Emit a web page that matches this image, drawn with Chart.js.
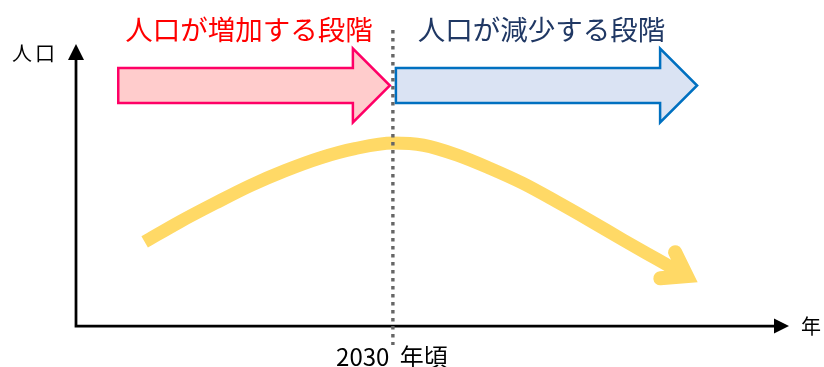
<!DOCTYPE html>
<html lang="ja">
<head>
<meta charset="utf-8">
<script src="https://cdn.jsdelivr.net/npm/chart.js@4.4.1/dist/chart.umd.min.js"></script>
<style>
  html, body { margin: 0; padding: 0; background: #fff; }
  #wrap { width: 824px; height: 367px; }
</style>
</head>
<body>
<div id="wrap"><canvas id="popChart" width="824" height="367"></canvas></div>
<script>
// 人口の推移（概念図）
const curveYears = [2006.5, 2009.8, 2013.2, 2016.5, 2019.8, 2023.1, 2026.4, 2030.0,
                    2032.9, 2036.1, 2039.2, 2042.3, 2045.5, 2048.7, 2051.8, 2055.0, 2057.5];
const curvePop   = [29.8, 36.9, 43.6, 49.8, 55.1, 59.6, 62.9, 64.9,
                    64.1, 60.6, 55.9, 50.6, 44.1, 37.3, 30.5, 23.7, 18.4];

const peakYear = 2030;
const peakLabel = '2030 年頃';
const phaseLabels = ['人口が増加する段階', '人口が減少する段階'];
const phaseFrom = [2004, 2030];
const phaseTo = [2030, 2058.8];
const yTitle = '人口';
const xTitle = '年';

const FONT = '"Noto Sans CJK JP", "Noto Sans", sans-serif';
const CURVE_COLOR = '#FFD966';
const PHASE_FILL = ['#FFCCCC', '#DAE3F3'];
const PHASE_STROKE = ['#FF0066', '#0070C0'];
const PHASE_TEXT = ['#FF0000', '#203864'];

function blockArrow(ctx, x0, x1, cy, fill, stroke) {
  const bodyH = 17.5, headH = 37, headL = 37;
  ctx.beginPath();
  ctx.moveTo(x0, cy - bodyH);
  ctx.lineTo(x1 - headL, cy - bodyH);
  ctx.lineTo(x1 - headL, cy - headH);
  ctx.lineTo(x1, cy);
  ctx.lineTo(x1 - headL, cy + headH);
  ctx.lineTo(x1 - headL, cy + bodyH);
  ctx.lineTo(x0, cy + bodyH);
  ctx.closePath();
  ctx.fillStyle = fill;
  ctx.fill();
  ctx.lineWidth = 2.5;
  ctx.lineJoin = 'miter';
  ctx.strokeStyle = stroke;
  ctx.stroke();
}

// axes, phase arrows and labels go under the curve
const backdrop = {
  id: 'backdrop',
  beforeDatasetsDraw(chart) {
    const { ctx, chartArea: a, scales: { x } } = chart;
    ctx.save();

    // axes with solid arrowheads
    ctx.strokeStyle = '#000';
    ctx.fillStyle = '#000';
    ctx.lineWidth = 2.75;
    ctx.beginPath();
    ctx.moveTo(a.left, a.bottom);
    ctx.lineTo(a.left, a.top + 12);
    ctx.moveTo(a.left - 1.4, a.bottom);
    ctx.lineTo(a.right - 12, a.bottom);
    ctx.stroke();
    ctx.beginPath();
    ctx.moveTo(a.left, a.top);
    ctx.lineTo(a.left + 8, a.top + 16);
    ctx.lineTo(a.left - 8, a.top + 16);
    ctx.closePath();
    ctx.fill();
    ctx.beginPath();
    ctx.moveTo(a.right, a.bottom);
    ctx.lineTo(a.right - 15, a.bottom - 7.5);
    ctx.lineTo(a.right - 15, a.bottom + 7.5);
    ctx.closePath();
    ctx.fill();

    ctx.font = '20px ' + FONT;
    ctx.textBaseline = 'middle';
    ctx.textAlign = 'left';
    ctx.letterSpacing = '3px';
    ctx.fillText(yTitle, 12, 53);
    ctx.letterSpacing = '0px';
    ctx.fillText(xTitle, 801, a.bottom);

    // phase arrows, split at the peak year
    const cy = 85.5;
    phaseLabels.forEach((label, i) => {
      const x0 = x.getPixelForValue(phaseFrom[i]) + (i > 0 ? 3 : 0);
      const x1 = x.getPixelForValue(phaseTo[i]) - (i === 0 ? 3 : 0);
      blockArrow(ctx, x0, x1, cy, PHASE_FILL[i], PHASE_STROKE[i]);
      ctx.font = '27.5px ' + FONT;
      ctx.textAlign = 'center';
      ctx.textBaseline = 'middle';
      ctx.fillStyle = PHASE_TEXT[i];
      ctx.fillText(label, (x0 + x1) / 2 - 5, 30);
    });

    ctx.restore();
  },
  afterDatasetsDraw(chart) {
    const { ctx, scales: { x } } = chart;
    const pts = chart.getDatasetMeta(0).data;
    const p = pts[pts.length - 1];
    const q = pts[pts.length - 2];
    ctx.save();

    // chevron head at the end of the curve
    let dx = p.x - (p.cp1x ?? q.x), dy = p.y - (p.cp1y ?? q.y);
    if (Math.hypot(dx, dy) < 1) { dx = p.x - q.x; dy = p.y - q.y; }
    const len = Math.hypot(dx, dy);
    const ux = dx / len, uy = dy / len, nx = -uy, ny = ux;
    const tx = p.x + ux * 4, ty = p.y + uy * 4;
    const b1x = tx - ux * 22 + nx * 15, b1y = ty - uy * 22 + ny * 15;
    const b2x = tx - ux * 22 - nx * 15, b2y = ty - uy * 22 - ny * 15;
    ctx.fillStyle = CURVE_COLOR;
    ctx.strokeStyle = CURVE_COLOR;
    ctx.beginPath();
    ctx.moveTo(b1x, b1y);
    ctx.lineTo(tx, ty);
    ctx.lineTo(b2x, b2y);
    ctx.closePath();
    ctx.fill();
    ctx.beginPath();
    ctx.moveTo(b1x, b1y);
    ctx.lineTo(tx, ty);
    ctx.lineTo(b2x, b2y);
    ctx.lineWidth = 14;
    ctx.lineCap = 'round';
    ctx.lineJoin = 'miter';
    ctx.miterLimit = 10;
    ctx.stroke();

    // dotted marker at the peak year
    const px = x.getPixelForValue(peakYear);
    ctx.beginPath();
    ctx.setLineDash([3.4, 4.6]);
    ctx.lineCap = 'butt';
    ctx.lineWidth = 3.4;
    ctx.strokeStyle = '#666666';
    ctx.moveTo(px, 30);
    ctx.lineTo(px, 345);
    ctx.stroke();
    ctx.setLineDash([]);

    ctx.font = '24px ' + FONT;
    ctx.fillStyle = '#000';
    ctx.textAlign = 'center';
    ctx.textBaseline = 'alphabetic';
    ctx.wordSpacing = '5px';
    ctx.fillText(peakLabel, px - 1, 366);
    ctx.restore();
  }
};

new Chart(document.getElementById('popChart'), {
  type: 'line',
  data: {
    datasets: [{
      data: curveYears.map((yr, i) => ({ x: yr, y: curvePop[i] })),
      borderColor: CURVE_COLOR,
      borderWidth: 13,
      borderCapStyle: 'butt',
      pointRadius: 0,
      cubicInterpolationMode: 'monotone',
      fill: false
    }]
  },
  options: {
    responsive: false,
    animation: false,
    devicePixelRatio: 1,
    layout: { padding: { left: 76, right: 35, top: 44, bottom: 41 } },
    scales: {
      x: { type: 'linear', min: 2000, max: 2067.5, display: false },
      y: { min: 0, max: 100, display: false }
    },
    plugins: { legend: { display: false }, tooltip: { enabled: false } }
  },
  plugins: [backdrop]
});
</script>
</body>
</html>
